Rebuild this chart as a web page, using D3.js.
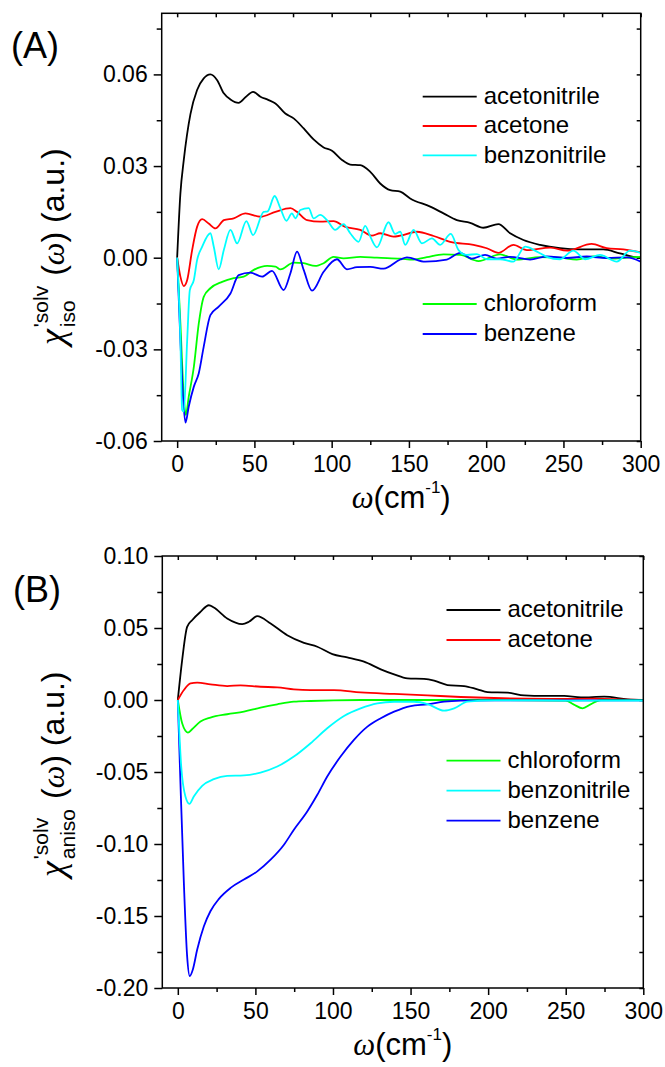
<!DOCTYPE html>
<html>
<head>
<meta charset="utf-8">
<script src="https://cdn.jsdelivr.net/npm/d3@7"></script>
<style>
  body { margin: 0; background: #fff; }
  svg { display: block; font-family: "Liberation Sans", Arial, sans-serif; }
  .tick text { font-size: 23px; fill: #000; }
  .tick line { stroke: #000; stroke-width: 1.5; }
</style>
</head>
<body>
<div id="chart"></div>
<script>
// ---- data: [omega (cm-1), chi'] pairs ----
// panel (A): isotropic
var isoAcetonitrile = [[0,0],[2.1,0.021],[4.3,0.032],[8.6,0.047],[12.9,0.0549],[17.2,0.0587],[21.5,0.060],[25.9,0.0581],
  [30.2,0.0538],[34.5,0.0518],[39.8,0.0507],[44.2,0.0525],[49.1,0.0543],[53.9,0.0527],[59.2,0.0516],[63.6,0.0505],
  [70,0.0472],[75.4,0.0456],[81.9,0.0423],[88.3,0.0387],[94.8,0.0361],[100.2,0.035],[106.7,0.032],[112,0.0305],
  [118.5,0.0303],[125,0.0281],[131.4,0.0243],[137.9,0.0221],[144.4,0.0216],[150.8,0.0194],[163.8,0.0167],[172.4,0.0145],
  [181,0.0123],[189.6,0.0114],[198.2,0.0098],[207.9,0.011],[215.5,0.008],[224.1,0.0058],[234.9,0.0042],[247.8,0.0031],
  [260.8,0.0027],[275.8,0.0027],[286.6,0.0014],[297.4,0.0001],[300,0]];
var isoAcetone = [[0,0],[2.1,-0.0062],[4.3,-0.0093],[6.5,-0.0073],[9.7,0.0025],[12.9,0.0101],[16.2,0.0126],[20.4,0.0112],
  [24.8,0.0096],[30.2,0.0123],[36.6,0.0129],[44.2,0.0145],[53.9,0.0134],[63.6,0.015],[73.3,0.0162],[77.6,0.015],
  [84.1,0.0123],[92.6,0.0118],[101.2,0.012],[108.8,0.0101],[118.5,0.0091],[126,0.0072],[131.4,0.008],[140,0.0069],
  [144.4,0.0072],[155.2,0.0085],[166,0.0071],[176.7,0.0052],[191.8,0.0042],[200.4,0.0031],[207.9,0.0016],[217.6,0.0042],
  [226.3,0.0025],[241.4,0.0033],[252.2,0.0023],[268.3,0.0045],[278,0.0031],[288.8,0.0027],[297.4,0.002],[300,0.0018]];
var isoBenzonitrile = [[0,0],[2.1,-0.0269],[3.2,-0.0498],[4.3,-0.0504],[6.5,-0.0269],[8.2,-0.0106],[10.8,-0.0073],
  [12.9,-0.0008],[16.2,0.0036],[21.5,0.008],[23.7,0.0036],[26.9,-0.0038],[30.2,0.0025],[34.5,0.0091],[38.8,0.0047],
  [44.8,0.012],[49.1,0.0074],[56,0.015],[58.6,0.0152],[63.1,0.0202],[66.8,0.0162],[70.7,0.0121],[74.3,0.0145],[76.5,0.0129],
  [79.7,0.0156],[85.1,0.0162],[88.3,0.0129],[92.6,0.014],[97,0.0123],[102.3,0.0091],[107.7,0.011],[112,0.008],
  [117.4,0.0052],[121.7,0.0104],[125,0.0069],[129.3,0.0034],[136.8,0.0116],[141.1,0.0078],[144.4,0.0085],[147.6,0.0042],
  [153,0.0091],[158.4,0.0047],[164.9,0.0063],[170.2,0.0042],[177.1,0.0078],[182.1,0.0025],[187.5,0.0009],[194,0.0012],
  [200.4,-0.0005],[209,-0.0005],[217.6,-0.0013],[225.2,0.0036],[232.8,0.002],[239.2,0.0003],[247.8,-0.0005],
  [256.4,0.0023],[264,-0.0005],[273.7,0.0009],[284.5,-0.0013],[293.1,0.0023],[300,0.0016]];
var isoChloroform = [[0,0],[2.1,-0.0215],[4.3,-0.0455],[5.6,-0.0515],[7.5,-0.0455],[10.8,-0.0357],[14,-0.0215],
  [17.2,-0.0128],[21.5,-0.01],[29.1,-0.0079],[36.6,-0.0067],[43.1,-0.0062],[49.6,-0.004],[58.2,-0.0027],[63.6,-0.0029],
  [66.8,-0.0038],[75.4,-0.0016],[81.9,-0.0018],[89.4,-0.0027],[94.8,-0.0018],[101.2,0.0003],[107.7,-0.0002],
  [118.5,0.0003],[129.3,0],[144.4,-0.0003],[153,-0.0006],[161.6,0.0002],[172.4,0.0011],[183.2,0.0009],[195,-0.0011],
  [209,0.0011],[219.8,-0.0006],[234.9,0.0002],[247.8,0],[258.6,-0.0006],[269.4,0.0004],[282.3,-0.0003],[295.2,0.0002],
  [300,0.0003]];
var isoBenzene = [[0,0],[2.1,-0.0269],[3.9,-0.0465],[5.4,-0.054],[7.5,-0.0487],[10.8,-0.0422],[14,-0.0378],
  [17.2,-0.0291],[21.5,-0.0188],[26.9,-0.016],[34.5,-0.0117],[39.8,-0.0057],[47.4,-0.0049],[55,-0.0062],[61.4,-0.0043],
  [68.9,-0.0106],[73.3,-0.0051],[77.6,0.002],[81.9,-0.004],[87.3,-0.0108],[94.8,-0.0046],[103.4,-0.0005],
  [109.9,-0.0038],[116.4,-0.0031],[125,-0.003],[133.6,-0.0036],[144.4,-0.0006],[148.7,0.0001],[160.5,-0.0013],
  [174.5,-0.0006],[183.2,0.0016],[190.7,-0.0003],[199.3,0.0009],[206.9,-0.0003],[215.5,0.0003],[228.4,-0.0006],
  [239.2,0.0004],[252.2,-0.0001],[265.1,0.0004],[278,-0.0001],[291,0.0001],[300,-0.0013]];

// panel (B): anisotropic
var anisoAcetonitrile = [[0,0],[2.8,0.0277],[6,0.0508],[9.2,0.0554],[14.6,0.0612],[20,0.0658],[23.2,0.0642],
  [31.8,0.0566],[41.5,0.0527],[45.8,0.0543],[51.2,0.0582],[59.8,0.0531],[70.5,0.045],[81.3,0.0397],[89.9,0.037],
  [99.6,0.0319],[109.2,0.0296],[120,0.0266],[130.8,0.0213],[139.4,0.0178],[148,0.015],[158.7,0.0146],[165.2,0.0134],
  [173.8,0.0104],[184.5,0.0097],[193.1,0.0074],[199.6,0.0055],[212.5,0.0051],[223.2,0.0032],[236.1,0.0028],
  [249,0.0028],[259.8,0.0018],[274.8,0.0023],[289.9,0.0005],[300,0]];
var anisoAcetone = [[0,0],[3.9,0.0069],[8.2,0.0116],[12.5,0.012],[21,0.0109],[31.8,0.0097],[40.4,0.0102],[53.3,0.0092],
  [64.1,0.0088],[74.8,0.0074],[85.6,0.0069],[100.6,0.0069],[117.8,0.0053],[139.4,0.0042],[160.9,0.0032],[182.4,0.0021],
  [203.9,0.0014],[225.4,0.0009],[246.9,0.0007],[268.4,0.0009],[290,0.0002],[300,0]];
var anisoChloroform = [[0,0],[2.8,-0.0162],[6.5,-0.0226],[9.2,-0.0203],[14.6,-0.015],[21,-0.0122],[31.8,-0.0099],
  [42.6,-0.0081],[53.3,-0.0053],[64.1,-0.003],[74.8,-0.0012],[85.6,-0.0007],[100.6,-0.0002],[117.8,0],[200,0],
  [250,-0.0004],[255,-0.003],[260.9,-0.0058],[266,-0.003],[272.7,0],[300,0]];
var anisoBenzonitrile = [[0,0],[2.2,-0.0462],[4.9,-0.067],[7.5,-0.0721],[10.3,-0.067],[15.7,-0.0596],[23.2,-0.055],
  [31.8,-0.0527],[42.6,-0.0524],[53.3,-0.0504],[64.1,-0.0462],[74.8,-0.0393],[85.6,-0.03],[96.3,-0.0196],
  [107.1,-0.0111],[117.8,-0.0058],[128.6,-0.0023],[139.4,-0.0012],[152.3,-0.0012],[160.9,-0.0028],[171.6,-0.0074],
  [178.1,-0.0058],[186.7,-0.0012],[203.9,-0.0002],[250,-0.0004],[300,-0.0005]];
var anisoBenzene = [[0,0],[1.7,-0.0578],[3.9,-0.127],[6,-0.1779],[7.7,-0.1917],[9.7,-0.1871],[12.5,-0.1733],
  [16.8,-0.1571],[21,-0.1467],[26.5,-0.1381],[34,-0.1305],[42.6,-0.1247],[51.2,-0.119],[59.8,-0.1109],[68.4,-0.1005],
  [74.8,-0.0901],[83.4,-0.0774],[89.9,-0.0658],[96.3,-0.0531],[104.9,-0.0393],[113.5,-0.0277],[122.2,-0.0185],
  [130.8,-0.0127],[139.4,-0.0081],[150.1,-0.0042],[160.9,-0.003],[171.6,-0.0012],[182.4,-0.0005],[203.9,-0.0002],
  [300,-0.0003]];

var omegaTicks = [0, 50, 100, 150, 200, 250, 300];
var omegaMinor = [25, 75, 125, 175, 225, 275];
var isoTicks = [-0.06, -0.03, 0, 0.03, 0.06];
var isoTickLabels = ["-0.06", "-0.03", "0.00", "0.03", "0.06"];
var isoMinor = [-0.045, -0.015, 0.015, 0.045, 0.075];
var anisoTicks = [-0.20, -0.15, -0.10, -0.05, 0, 0.05, 0.10];
var anisoTickLabels = ["-0.20", "-0.15", "-0.10", "-0.05", "0.00", "0.05", "0.10"];
var anisoMinor = [-0.175, -0.125, -0.075, -0.025, 0.025, 0.075];

var colors = {
  acetonitrile: "#000000", acetone: "#ff0000", benzonitrile: "#00ffff",
  chloroform: "#00ff00", benzene: "#0000ff"
};

var svgWidth = 665, svgHeight = 1067;
var svg = d3.select("#chart").append("svg")
  .attr("width", svgWidth)
  .attr("height", svgHeight);

function drawPanel(opt) {
  var x = d3.scaleLinear().domain([-10, 300]).range([opt.left, opt.right]);
  var y = d3.scaleLinear().domain(opt.yDomain).range([opt.bottom, opt.top]);
  var g = svg.append("g");

  // minor ticks
  g.append("g").attr("transform", `translate(0,${opt.bottom})`)
    .call(d3.axisBottom(x).tickValues(omegaMinor).tickSize(4).tickFormat(""));
  g.append("g").attr("transform", `translate(${opt.left},0)`)
    .call(d3.axisLeft(y).tickValues(opt.minor).tickSize(5).tickFormat(""));
  // major ticks
  g.append("g").attr("transform", `translate(0,${opt.bottom})`)
    .call(d3.axisBottom(x).tickValues(omegaTicks).tickSize(7).tickPadding(8).tickFormat(d3.format("d")));
  g.append("g").attr("transform", `translate(${opt.left},0)`)
    .call(d3.axisLeft(y).tickValues(opt.ticks).tickSize(8).tickPadding(6)
      .tickFormat((d, i) => opt.tickLabels[i]));
  // mirrored inward ticks on top / right
  g.append("g").attr("transform", `translate(0,${opt.top})`)
    .call(d3.axisBottom(x).tickValues(omegaTicks.concat(omegaMinor)).tickSize(4).tickFormat(""));
  g.append("g").attr("transform", `translate(${opt.right},0)`)
    .call(d3.axisRight(y).tickValues(opt.ticks.concat(opt.minor)).tickSize(-4).tickFormat(""));
  g.selectAll(".domain").remove();

  var clipId = "clip" + opt.name;
  svg.append("clipPath").attr("id", clipId).append("rect")
    .attr("x", opt.left).attr("y", opt.top)
    .attr("width", opt.right - opt.left).attr("height", opt.bottom - opt.top);

  var line = d3.line().x(d => x(d[0])).y(d => y(d[1])).curve(d3.curveMonotoneX);
  var lines = g.append("g").attr("clip-path", `url(#${clipId})`);
  opt.drawOrder.forEach(function(s) {
    lines.append("path")
      .datum(opt.series[s])
      .attr("fill", "none")
      .attr("stroke", colors[s])
      .attr("stroke-width", 1.8)
      .attr("stroke-linejoin", "round")
      .attr("d", line);
  });

  // frame
  g.append("rect")
    .attr("x", opt.left).attr("y", opt.top)
    .attr("width", opt.right - opt.left).attr("height", opt.bottom - opt.top)
    .attr("fill", "none").attr("stroke", "#000").attr("stroke-width", 1.5);

  // legend
  opt.legend.forEach(function(item) {
    g.append("line")
      .attr("x1", opt.legX).attr("x2", opt.legX + 54)
      .attr("y1", item[1]).attr("y2", item[1])
      .attr("stroke", colors[item[0]]).attr("stroke-width", 1.8);
    g.append("text")
      .attr("x", opt.legX + 61).attr("y", item[1]).attr("dy", "0.31em")
      .attr("font-size", 24).text(item[0]);
  });

  // panel label
  g.append("text").attr("x", opt.labelX).attr("y", opt.labelY)
    .attr("font-size", 36).text(opt.label);

  // x title
  var xt = g.append("text")
    .attr("x", (opt.left + opt.right) / 2).attr("y", opt.bottom + 67)
    .attr("text-anchor", "middle").attr("font-size", 31);
  xt.append("tspan").attr("font-family", "Liberation Serif, serif").attr("font-style", "italic").text("ω");
  xt.append("tspan").text("(cm");
  xt.append("tspan").attr("font-size", 17).attr("dy", -15).text("-1");
  xt.append("tspan").attr("dy", 15).text(")");

  // y title (rotated)
  var yt = g.append("g").attr("transform", `translate(64,${opt.yTitleStart}) rotate(-90)`);
  var chi = yt.append("text").attr("x", 0).attr("y", 0)
    .attr("font-family", "Liberation Serif, serif").attr("font-style", "italic")
    .attr("font-size", 36).text("χ");
  var wChi = chi.node().getComputedTextLength();
  var sub = yt.append("text").attr("x", wChi + 2).attr("y", 11).attr("font-size", 21).text(opt.sub);
  var sup = yt.append("text").attr("x", wChi + 2).attr("y", -16).attr("font-size", 21).text("'solv");
  var wS = Math.max(sub.node().getComputedTextLength(), sup.node().getComputedTextLength());
  var rest = yt.append("text").attr("x", wChi + wS + 12).attr("y", 0).attr("font-size", 32);
  rest.append("tspan").text("(");
  rest.append("tspan").attr("font-family", "Liberation Serif, serif").attr("font-style", "italic").text("ω");
  rest.append("tspan").text(") (a.u.)");
}

drawPanel({
  name: "A", left: 161.7, right: 640.7, top: 13.3, bottom: 441,
  yDomain: [-0.06, 0.08], ticks: isoTicks, tickLabels: isoTickLabels, minor: isoMinor,
  series: { acetonitrile: isoAcetonitrile, acetone: isoAcetone, benzonitrile: isoBenzonitrile,
            chloroform: isoChloroform, benzene: isoBenzene },
  drawOrder: ["acetonitrile", "acetone", "chloroform", "benzene", "benzonitrile"],
  legX: 422.7,
  legend: [["acetonitrile", 96.7], ["acetone", 126], ["benzonitrile", 155.3], ["chloroform", 304], ["benzene", 334]],
  label: "(A)", labelX: 11, labelY: 58,
  sub: "iso", yTitleStart: 345
});

drawPanel({
  name: "B", left: 162.3, right: 643.3, top: 556, bottom: 988,
  yDomain: [-0.20, 0.10], ticks: anisoTicks, tickLabels: anisoTickLabels, minor: anisoMinor,
  series: { acetonitrile: anisoAcetonitrile, acetone: anisoAcetone, chloroform: anisoChloroform,
            benzonitrile: anisoBenzonitrile, benzene: anisoBenzene },
  drawOrder: ["acetonitrile", "acetone", "chloroform", "benzene", "benzonitrile"],
  legX: 446.5,
  legend: [["acetonitrile", 610], ["acetone", 640], ["chloroform", 760.7], ["benzonitrile", 790.7], ["benzene", 820.7]],
  label: "(B)", labelX: 13, labelY: 602,
  sub: "aniso", yTitleStart: 877
});
</script>
</body>
</html>
